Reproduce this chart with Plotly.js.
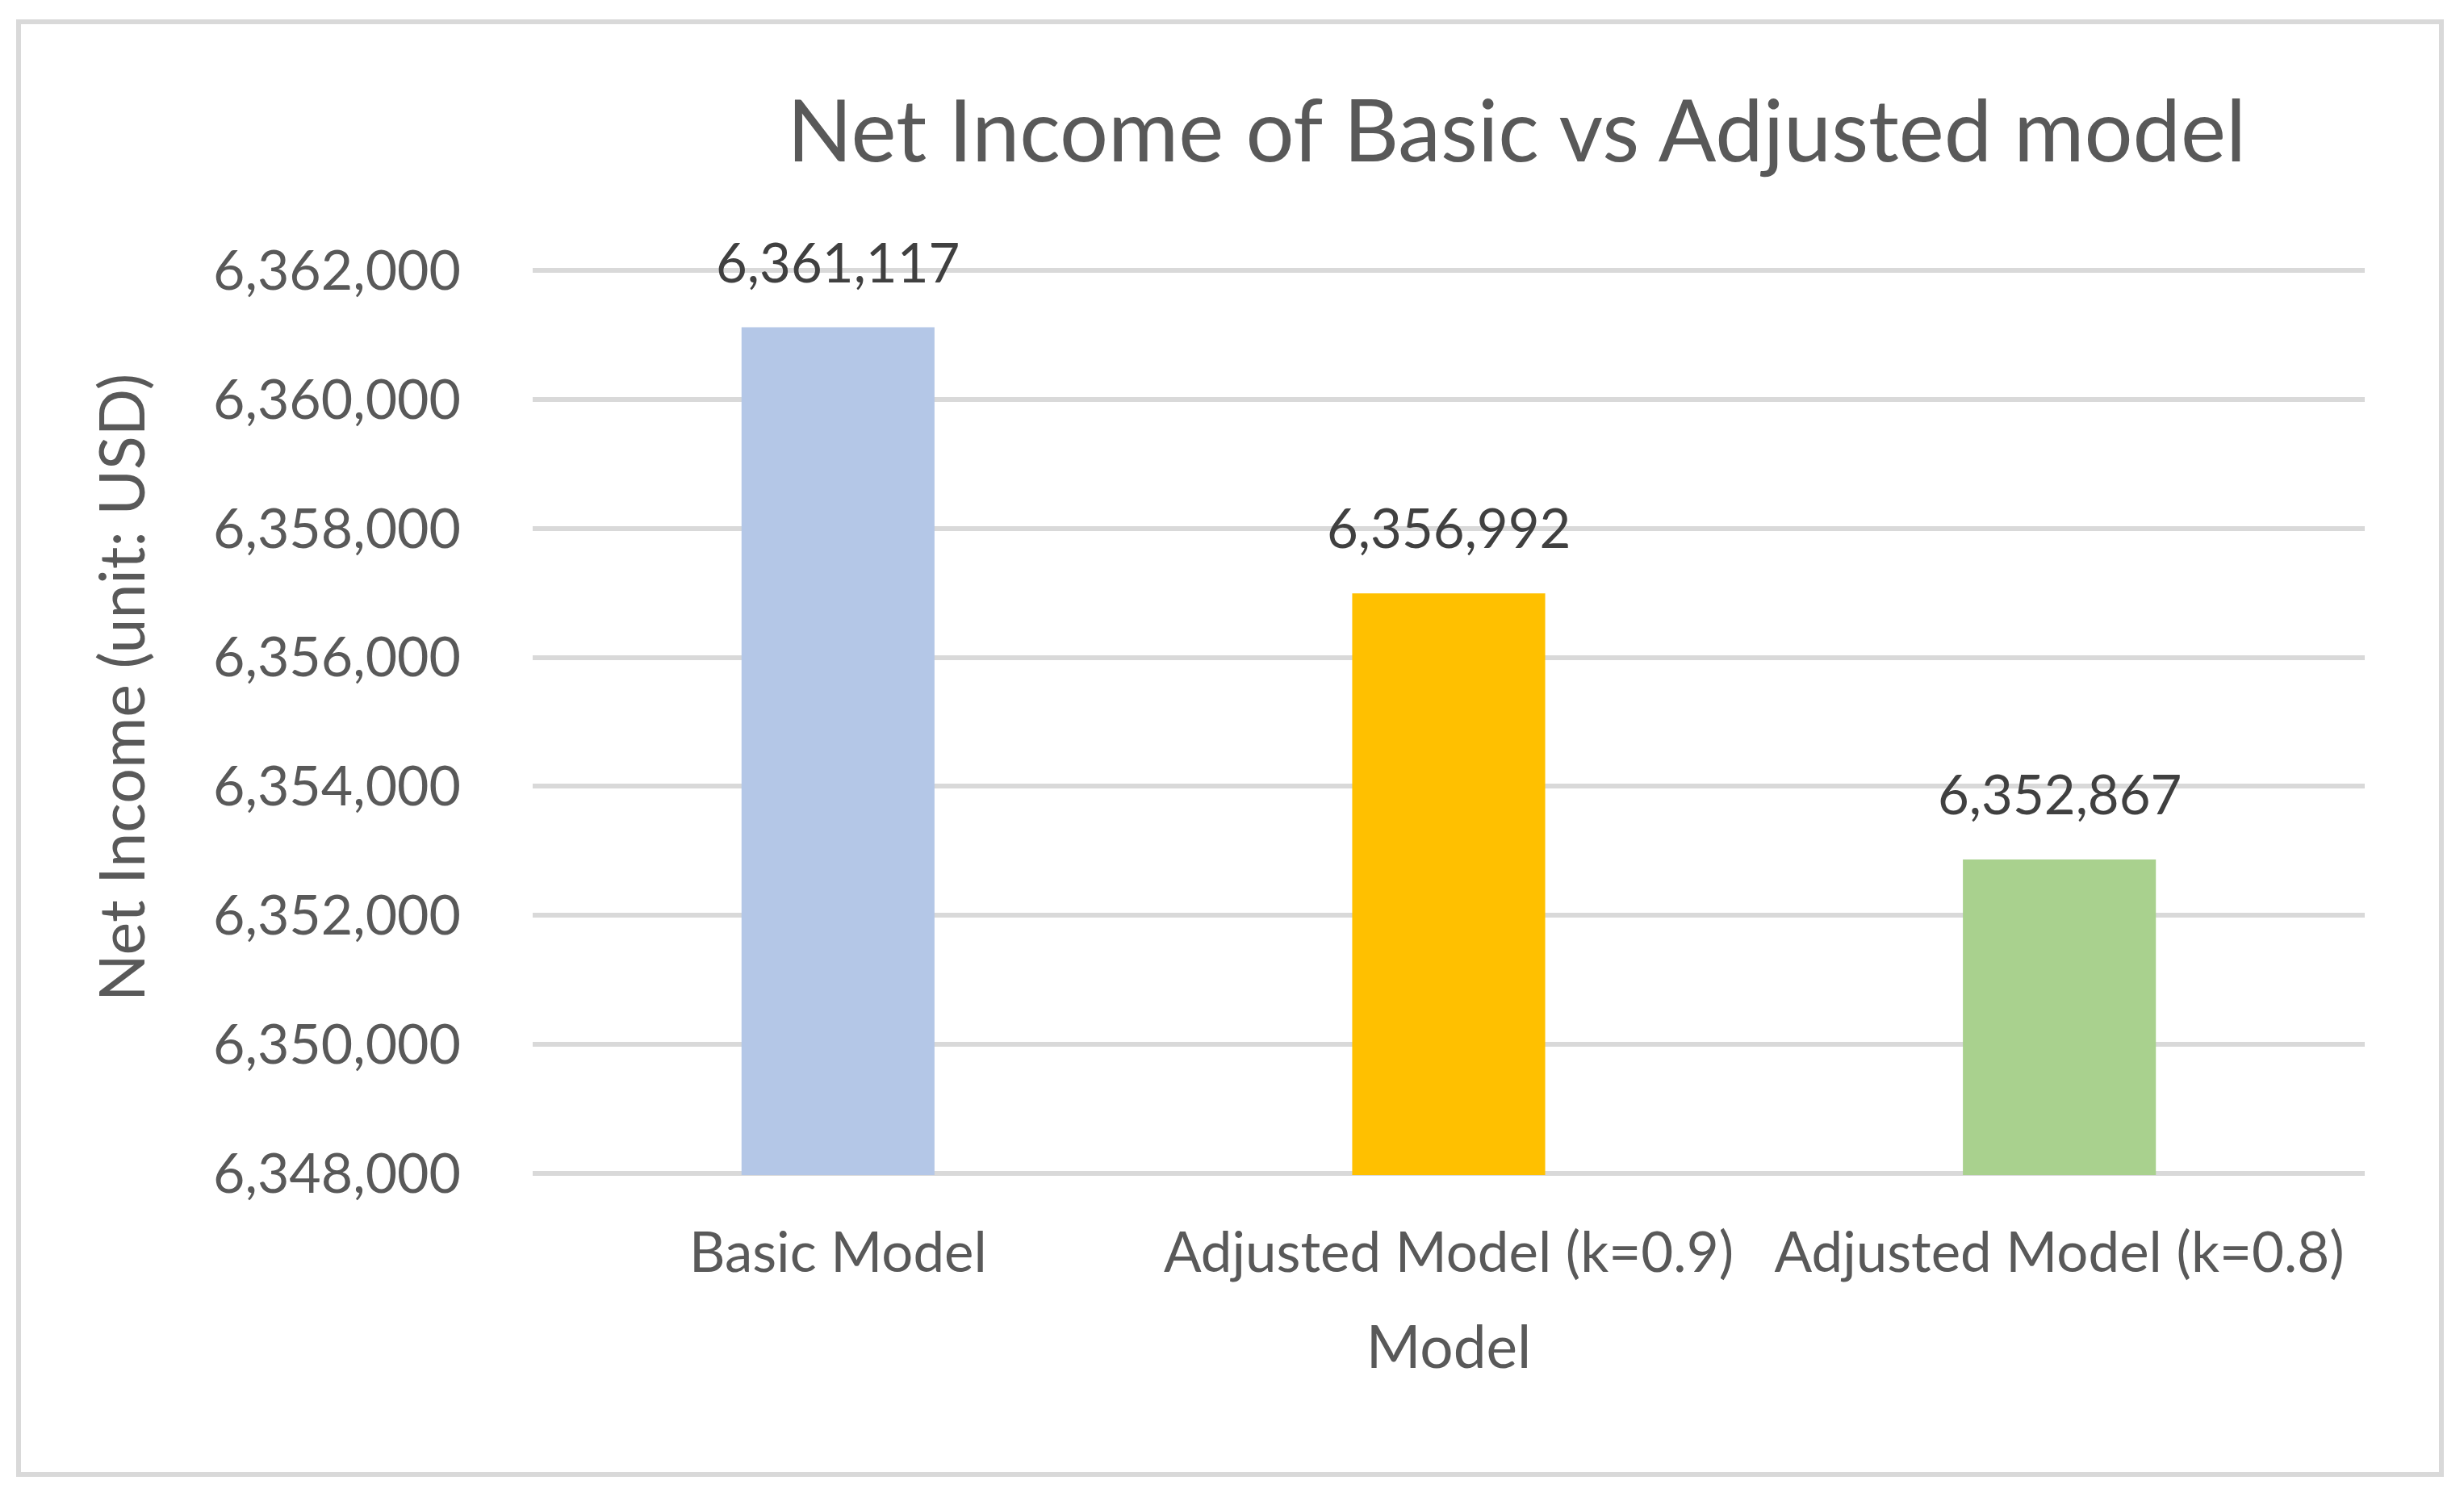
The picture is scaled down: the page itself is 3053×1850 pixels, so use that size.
<!DOCTYPE html>
<html>
<head>
<meta charset="utf-8">
<script src="https://cdn.plot.ly/plotly-3.0.1.min.js"></script>
<style>
  html, body { margin: 0; padding: 0; background: #ffffff; }
  #wrap { position: relative; width: 3053px; height: 1850px; }
  #chart { position: absolute; left: 0; top: 0; width: 3053px; height: 1850px; }
  #frame { position: absolute; left: 20px; top: 24px; width: 3008px; height: 1806px;
           box-sizing: border-box; border: 6px solid #d9d9d9; pointer-events: none; }
</style>
</head>
<body>
<div id="wrap">
  <div id="chart"></div>
  <div id="frame"></div>
</div>
<script>
// ---- data ----
const categories = ['Basic Model', 'Adjusted Model (k=0.9)', 'Adjusted Model (k=0.8)'];
const netIncome = [6361117, 6356992, 6352867];
const barColors = ['#B4C7E7', '#FFC000', '#A9D18E'];
const yTickVals = [6348000, 6350000, 6352000, 6354000, 6356000, 6358000, 6360000, 6362000];
const chartTitle = 'Net Income of Basic vs Adjusted model';
const xTitle = 'Model';
const yTitle = 'Net Income (unit: USD)';

const FONT = 'Lato, "Open Sans", sans-serif';
const GREY = '#595959';

const fmt = v => v.toLocaleString('en-US');

const trace = {
  type: 'bar',
  x: categories,
  y: netIncome,
  marker: { color: barColors, line: { width: 0 } },
  hoverinfo: 'x+y',
  showlegend: false
};

const dataLabels = categories.map((c, i) => ({
  x: c, y: netIncome[i], xref: 'x', yref: 'y',
  text: fmt(netIncome[i]),
  showarrow: false,
  yanchor: 'middle',
  yshift: 82,
  font: { family: FONT, size: 67, color: '#404040' }
}));

const yTitleAnn = {
  xref: 'paper', yref: 'paper',
  x: -0.225, y: 0.538,
  text: yTitle, textangle: -90,
  showarrow: false,
  xanchor: 'center', yanchor: 'middle',
  font: { family: FONT, size: 77, color: GREY }
};

const layout = {
  width: 3053, height: 1850,
  paper_bgcolor: 'rgba(0,0,0,0)',
  plot_bgcolor: 'rgba(0,0,0,0)',
  margin: { l: 660, r: 123, t: 332.5, b: 394, pad: 0 },
  font: { family: FONT, color: GREY },
  title: {
    text: chartTitle,
    x: 0.6155, xref: 'container', xanchor: 'center',
    y: 0.912, yref: 'container', yanchor: 'middle',
    font: { family: FONT, size: 106, color: GREY }
  },
  bargap: 0.684,
  xaxis: {
    type: 'category',
    showgrid: false, zeroline: false, showline: false,
    ticks: '',
    tickfont: { family: FONT, size: 69, color: GREY },
    ticklabelstandoff: 50,
    title: { text: xTitle, font: { family: FONT, size: 73, color: GREY }, standoff: 53 }
  },
  yaxis: {
    range: [6347975, 6362025],
    tickvals: yTickVals,
    tickformat: ',d',
    showgrid: true, gridcolor: '#d9d9d9', gridwidth: 6,
    zeroline: false, showline: false,
    ticks: '',
    tickfont: { family: FONT, size: 68, color: GREY },
    ticklabelstandoff: 88
  },
  annotations: dataLabels.concat([yTitleAnn])
};

Plotly.newPlot('chart', [trace], layout, { displayModeBar: false, staticPlot: true });
</script>
</body>
</html>
